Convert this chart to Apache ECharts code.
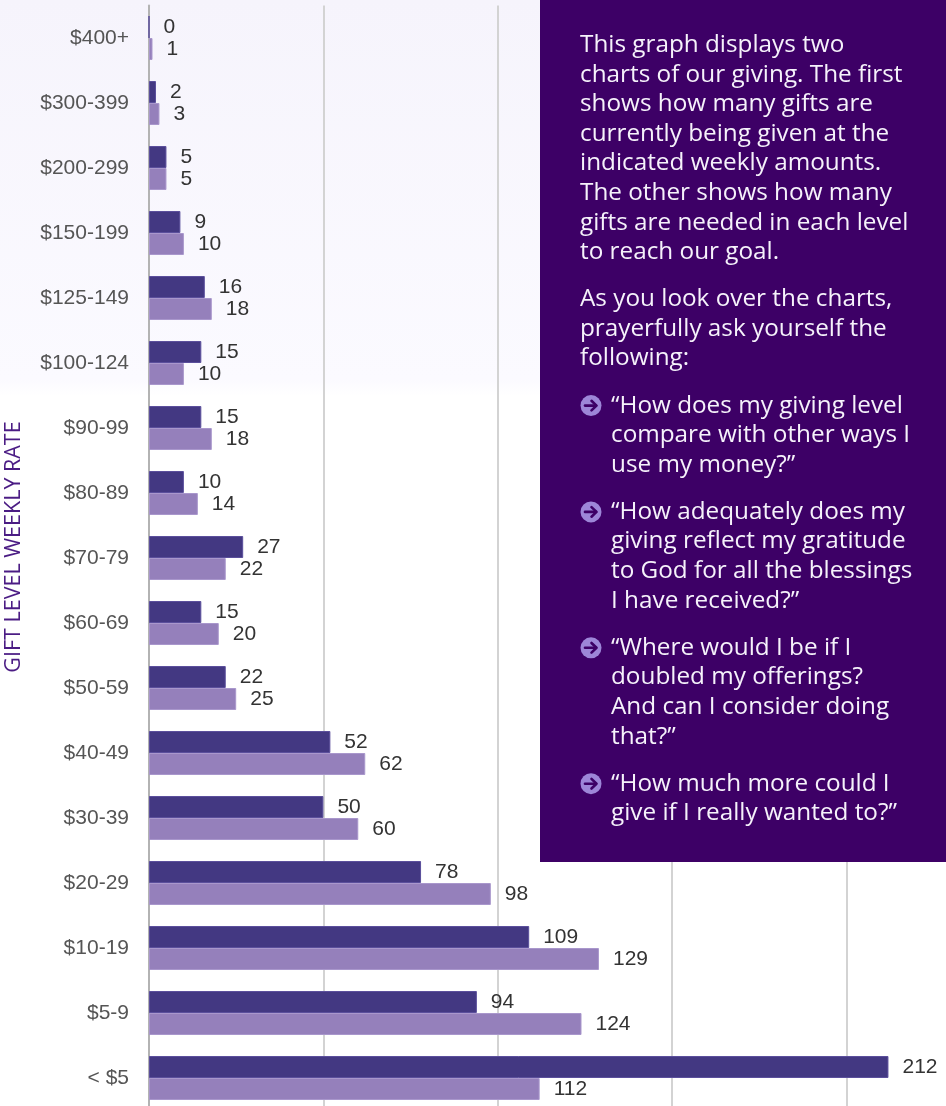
<!DOCTYPE html>
<html>
<head>
<meta charset="utf-8">
<script src="https://cdn.jsdelivr.net/npm/echarts@6/dist/echarts.min.js"></script>
<style>
  html, body { margin: 0; padding: 0; }
  #chart {
    width: 946px;
    height: 1106px;
    background: linear-gradient(to bottom, #f6f4fc 0px, #fbfaff 380px, #ffffff 396px);
  }
</style>
</head>
<body>
<div id="chart"></div>
<script>
const CATEGORIES = [
  "$400+", "$300-399", "$200-299", "$150-199", "$125-149", "$100-124",
  "$90-99", "$80-89", "$70-79", "$60-69", "$50-59", "$40-49",
  "$30-39", "$20-29", "$10-19", "$5-9", "< $5"
];
const CURRENT_GIFTS = [0, 2, 5, 9, 16, 15, 15, 10, 27, 15, 22, 52, 50, 78, 109, 94, 212];
const GIFTS_NEEDED = [1, 3, 5, 10, 18, 10, 18, 14, 22, 20, 25, 62, 60, 98, 129, 124, 112];

const INTRO_LINES = [
  "This graph displays two",
  "charts of our giving. The first",
  "shows how many gifts are",
  "currently being given at the",
  "indicated weekly amounts.",
  "The other shows how many",
  "gifts are needed in each level",
  "to reach our goal."
];
const PROMPT_LINES = [
  "As you look over the charts,",
  "prayerfully ask yourself the",
  "following:"
];
const QUESTIONS = [
  ["\u201CHow does my giving level", "compare with other ways I", "use my money?\u201D"],
  ["\u201CHow adequately does my", "giving reflect my gratitude", "to God for all the blessings", "I have received?\u201D"],
  ["\u201CWhere would I be if I", "doubled my offerings?", "And can I consider doing", "that?\u201D"],
  ["\u201CHow much more could I", "give if I really wanted to?\u201D"]
];

const DARK = "#433882";
const LIGHT = "#9580bb";
const PANEL = "#3d0066";
const LABEL_FONT = "'Liberation Sans', Helvetica, Arial, sans-serif";
const PANEL_FONT = "'Open Sans', sans-serif";

// text panel on the right
const LINE_H = 29.6;
const PARA_GAP = 17.5;
const panelEls = [
  { type: "rect", shape: { x: 540, y: 0, width: 406, height: 862 }, style: { fill: PANEL }, z: 100 }
];
let cursorY = 30.2;
function addBlock(lines, x, bullet) {
  panelEls.push({
    type: "text",
    x: x,
    y: cursorY,
    z: 101,
    style: {
      text: lines.join("\n"),
      fill: "#f6f2fb",
      font: "24.3px " + PANEL_FONT,
      lineHeight: LINE_H,
      verticalAlign: "top",
      align: "left"
    }
  });
  if (bullet) {
    const cy = cursorY + LINE_H / 2;
    panelEls.push({ type: "circle", shape: { cx: 591, cy: cy, r: 10.5 }, style: { fill: "#9d86d8" }, z: 101 });
    panelEls.push({
      type: "polyline", z: 102,
      shape: { points: [[585, cy], [596, cy]] },
      style: { stroke: PANEL, lineWidth: 2.6, lineCap: "round" }
    });
    panelEls.push({
      type: "polyline", z: 102,
      shape: { points: [[591.5, cy - 4.8], [596.5, cy], [591.5, cy + 4.8]] },
      style: { stroke: PANEL, lineWidth: 2.6, lineCap: "round", lineJoin: "round", fill: null }
    });
  }
  cursorY += lines.length * LINE_H + PARA_GAP;
}
addBlock(INTRO_LINES, 580, false);
addBlock(PROMPT_LINES, 580, false);
QUESTIONS.forEach(q => addBlock(q, 611, true));

function barSeries(name, data, color, border) {
  return {
    name: name,
    type: "bar",
    data: data,
    barWidth: 22,
    barGap: "0%",
    itemStyle: { color: color, borderColor: border, borderWidth: 1 },
    label: {
      show: true,
      position: "right",
      distance: 14,
      color: "#333",
      fontSize: 21,
      fontFamily: LABEL_FONT
    }
  };
}

const chart = echarts.init(document.getElementById("chart"), null, { renderer: "canvas" });
chart.setOption({
  backgroundColor: "transparent",
  animation: false,
  grid: { left: 149, right: 0, top: 5.5, height: 1105, containLabel: false, outerBoundsMode: "none" },
  xAxis: {
    type: "value",
    min: 0,
    max: 228.5,
    interval: 50,
    axisLine: { show: false },
    axisTick: { show: false },
    axisLabel: { show: false },
    splitLine: { show: true, showMinLine: false, showMaxLine: false, lineStyle: { color: "#d3d3d3", width: 2 } }
  },
  yAxis: {
    type: "category",
    data: CATEGORIES,
    inverse: true,
    name: "GIFT LEVEL WEEKLY RATE",
    nameLocation: "middle",
    nameRotate: 90,
    nameGap: 124,
    nameTextStyle: {
      color: "#4b1c84",
      fontSize: 21.5,
      fontFamily: PANEL_FONT,
      padding: [0, 0, 0, 22]
    },
    axisLine: { show: true, lineStyle: { color: "#b3b3b3", width: 2 } },
    axisTick: { show: false },
    axisLabel: { color: "#555", fontSize: 21, fontFamily: LABEL_FONT, margin: 20 }
  },
  series: [
    barSeries("Current gifts", CURRENT_GIFTS, DARK, "#5b4f9c"),
    barSeries("Gifts needed", GIFTS_NEEDED, LIGHT, "#a997cc")
  ],
  graphic: { elements: panelEls }
});
</script>
</body>
</html>
